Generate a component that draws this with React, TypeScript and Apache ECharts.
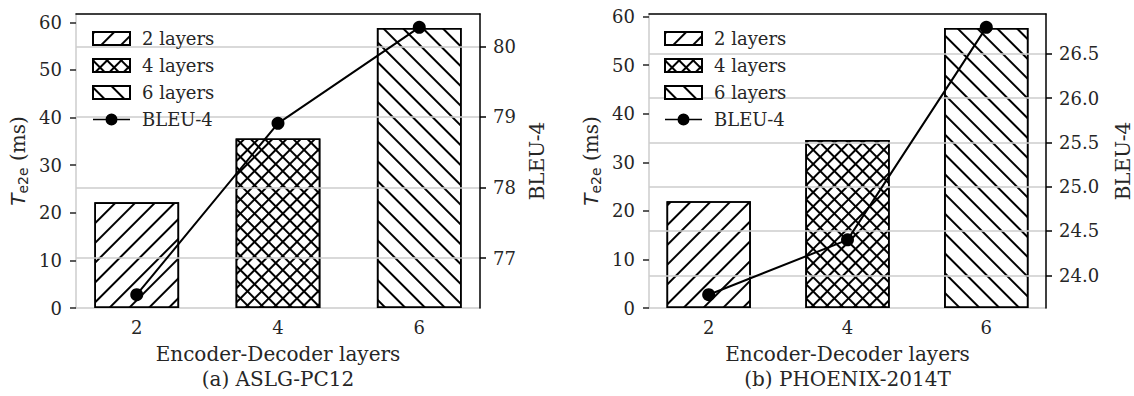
import { useEffect, useRef } from 'react';
import * as echarts from 'echarts';

const layers = [2, 4, 6];
const barNames = ['2 layers', '4 layers', '6 layers'];
const lineName = 'BLEU-4';
const aslgLatency = [22.2, 35.6, 58.8];
const aslgBleu = [76.48, 78.91, 80.27];
const phoenixLatency = [22.0, 34.6, 57.65];
const phoenixBleu = [23.78, 24.4, 26.8];
const latencyTicks = [0, 10, 20, 30, 40, 50, 60];
const aslgBleuTicks = [77, 78, 79, 80];
const phoenixBleuTicks = [24.0, 24.5, 25.0, 25.5, 26.0, 26.5];
const xTitle = 'Encoder-Decoder layers';
const subtitles = ['(a) ASLG-PC12', '(b) PHOENIX-2014T'];

const SERIF = "'DejaVu Serif', serif";
const SANS = "'DejaVu Sans', sans-serif";
const TEXT = '#262626';
const GRID_GRAY = '#cccccc';

// legend glyph: a line with a circular marker in the middle
const LINE_MARKER_ICON =
  'path://M0,5.75 L37,5.75 L37,7.25 L0,7.25 Z M12.5,6.5 A6,6 0 1,1 24.5,6.5 A6,6 0 1,1 12.5,6.5 Z';

const decals = [
  { symbol: 'rect', symbolSize: 1, symbolKeepAspect: false, color: '#000', dashArrayX: [10, 0], dashArrayY: [2, 12], rotation: -Math.PI / 4 },
  { symbol: 'rect', symbolSize: 1, symbolKeepAspect: false, color: '#000', dashArrayX: [[10, 0], [2, 8]], dashArrayY: [2, 0, 8, 0], rotation: Math.PI / 4 },
  { symbol: 'rect', symbolSize: 1, symbolKeepAspect: false, color: '#000', dashArrayX: [10, 0], dashArrayY: [2, 12], rotation: Math.PI / 4 },
];

function padRange(vals: number[]): [number, number] {
  const lo = Math.min(...vals);
  const hi = Math.max(...vals);
  const pad = (hi - lo) * 0.05;
  return [lo - pad, hi + pad];
}

function buildPanel(
  i: number,
  latency: number[],
  bleu: number[],
  bleuTicks: number[],
  bleuDigits: number,
  subtitle: string,
  left: number,
  width: number,
  legendLeft: number,
  bleuGap: number
) {
  const step = layers[1] - layers[0];
  const barSpan = step * 0.6;
  const [xmin, xmax] = padRange([layers[0] - barSpan / 2, layers[layers.length - 1] + barSpan / 2]);
  const barPx = (width * barSpan) / (xmax - xmin);
  const latMax = Math.max(...latency) * 1.05;
  const [bMin, bMax] = padRange(bleu);
  const labelStyle = { fontFamily: SERIF, fontSize: 18, color: TEXT };
  const titleStyle = { fontFamily: SERIF, fontSize: 20, color: TEXT };

  const grid = { left, top: 14, width, height: 298 };
  const xAxes = [
    {
      gridIndex: i,
      type: 'value',
      min: xmin,
      max: xmax,
      axisLine: { show: true, lineStyle: { color: GRID_GRAY, width: 1.5 } },
      axisTick: { show: false, customValues: layers },
      axisLabel: { ...labelStyle, customValues: layers, margin: 10 },
      splitLine: { show: false },
      name: xTitle + '\n' + subtitle,
      nameLocation: 'middle',
      nameGap: 22,
      nameTextStyle: { ...titleStyle, lineHeight: 25 },
    },
    {
      gridIndex: i,
      type: 'value',
      position: 'top',
      min: 0,
      max: 1,
      axisLine: { show: true, lineStyle: { color: '#000', width: 1.5 } },
      axisTick: { show: false },
      axisLabel: { show: false },
      splitLine: { show: false },
    },
  ];
  const yAxes = [
    {
      gridIndex: i,
      type: 'value',
      position: 'left',
      min: 0,
      max: latMax,
      axisLine: { show: true, lineStyle: { color: GRID_GRAY, width: 1.5 } },
      axisTick: { show: true, length: 6, customValues: latencyTicks, lineStyle: { color: TEXT, width: 1.5 } },
      axisLabel: { ...labelStyle, customValues: latencyTicks, margin: 14 },
      splitLine: { show: false },
      name: '{t|T}{s|e2e}{n| (ms)}',
      nameLocation: 'middle',
      nameRotate: 90,
      nameGap: 46,
      nameTextStyle: {
        color: TEXT,
        rich: {
          t: { fontFamily: SANS, fontStyle: 'italic', fontSize: 20, lineHeight: 24, verticalAlign: 'middle', color: TEXT },
          s: { fontFamily: SANS, fontSize: 14, verticalAlign: 'bottom', color: TEXT },
          n: { fontFamily: SERIF, fontSize: 20, lineHeight: 24, verticalAlign: 'middle', color: TEXT },
        },
      },
    },
    {
      gridIndex: i,
      type: 'value',
      position: 'right',
      min: bMin,
      max: bMax,
      z: 3,
      axisLine: { show: true, lineStyle: { color: '#000', width: 1.5 } },
      axisTick: { show: true, length: 6, customValues: bleuTicks, lineStyle: { color: '#000', width: 1.5 } },
      axisLabel: { ...labelStyle, customValues: bleuTicks, margin: 13, formatter: (v: number) => v.toFixed(bleuDigits) },
      splitLine: { show: true, lineStyle: { color: GRID_GRAY, width: 1.5 } },
      name: lineName,
      nameLocation: 'middle',
      nameRotate: 90,
      nameGap: bleuGap,
      nameTextStyle: titleStyle,
    },
  ];
  const series: any[] = barNames.map((name, k) => ({
    type: 'bar',
    name,
    xAxisIndex: 2 * i,
    yAxisIndex: 2 * i,
    data: [[layers[k], latency[k]]],
    barWidth: barPx,
    barGap: '-100%',
    z: 2,
    itemStyle: { color: '#fff', borderColor: '#000', borderWidth: 1.6, decal: decals[k] },
  }));
  series.push({
    type: 'line',
    name: lineName,
    xAxisIndex: 2 * i,
    yAxisIndex: 2 * i + 1,
    data: layers.map((x, k) => [x, bleu[k]]),
    symbol: 'circle',
    symbolSize: 13,
    z: 10,
    lineStyle: { color: '#000', width: 2 },
    itemStyle: { color: '#000' },
  });
  const legend = {
    left: legendLeft,
    top: 29.5,
    padding: 0,
    z: 8,
    orient: 'vertical',
    itemWidth: 37,
    itemHeight: 13,
    itemGap: 9,
    selectedMode: false,
    data: [...barNames.map((n) => ({ name: n, icon: 'rect' })), { name: lineName, icon: LINE_MARKER_ICON }],
    textStyle: { ...labelStyle, padding: [0, 0, 0, 7] },
  };
  return { grid, xAxes, yAxes, series, legend };
}

export default function App() {
  const ref = useRef<HTMLDivElement>(null);
  useEffect(() => {
    if (!ref.current) return;
    const chart = echarts.init(ref.current, undefined, { renderer: 'svg' });
    const a = buildPanel(0, aslgLatency, aslgBleu, aslgBleuTicks, 0, subtitles[0], 76, 404, 92, 47);
    const b = buildPanel(1, phoenixLatency, phoenixBleu, phoenixBleuTicks, 1, subtitles[1], 649, 402, 664, 67);
    chart.setOption({
      animation: false,
      grid: [a.grid, b.grid],
      xAxis: [...a.xAxes, ...b.xAxes],
      yAxis: [...a.yAxes, ...b.yAxes],
      series: [...a.series, ...b.series],
      legend: [a.legend, b.legend],
    } as any);
    return () => chart.dispose();
  }, []);
  return <div ref={ref} style={{ position: 'absolute', left: 0, top: 0, width: 1134, height: 396 }} />;
}
